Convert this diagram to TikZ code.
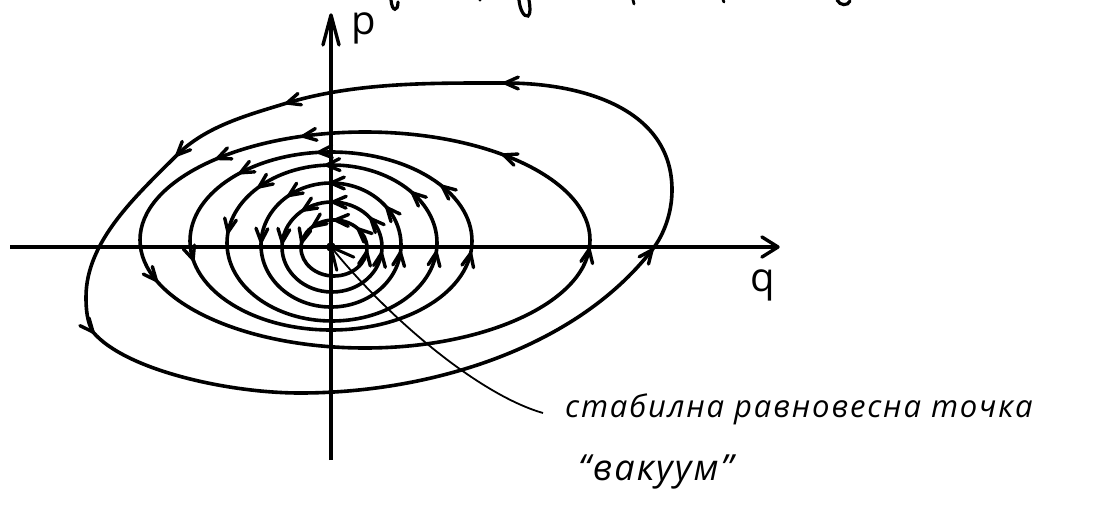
\documentclass[tikz,border=0pt]{standalone}
\usepackage{fontspec}
\setmainfont{Open Sans}
\newfontfamily\hand{Open Sans}
\usetikzlibrary{arrows.meta}
% chevron at (#1,#2) pointing along screen angle #3
\newcommand{\chev}[3]{\draw[chevst] (#1,#2) ++(#3+156:14.5) -- (#1,#2) -- ++(#3-156:14.5);}
% chevron on ellipse centre (#1,#2), radii #3,#4, parameter #5 (counterclockwise on screen)
\newcommand{\earr}[5]{%
  \pgfmathsetmacro{\cpx}{#1+#3*cos(#5)}%
  \pgfmathsetmacro{\cpy}{#2-#4*sin(#5)}%
  \pgfmathsetmacro{\cang}{atan2(-#4*cos(#5),-#3*sin(#5))}%
  \chev{\cpx}{\cpy}{\cang}}
\begin{document}
\begin{tikzpicture}[x=1pt,y=-1pt,
  curve/.style={line width=3.6pt},
  axis/.style={line width=3.3pt},
  chevst/.style={line width=3.4pt,line cap=round,line join=round},
  lbl/.style={inner sep=0pt},
  axlbl/.style={inner sep=0pt,font=\hand\fontsize{40}{46}\selectfont}]
\useasboundingbox (0,0) rectangle (1118,525);
% cut-off strokes at the top edge
\draw[line width=3.2pt,line cap=round] (391,0) .. controls (392,12) and (398,12) .. (398,2);
\draw[line width=3.2pt,line cap=round] (519,0) .. controls (520,10) and (524,17) .. (528,16) .. controls (531,14) and (530,6) .. (529,0);
\fill (480,0) circle (1.6pt);
\draw[line width=2.8pt,line cap=round] (633,0) -- (634,4);
\draw[line width=2.8pt,line cap=round] (723,0) -- (724,2);
\draw[line width=3.2pt,line cap=round] (837,0) .. controls (840,6) and (848,6) .. (850,1);
% axes
\coordinate (o) at (331,247);
\coordinate (xl) at (10,247);
\coordinate (xr) at (778,247);
\coordinate (yb) at (331,460);
\coordinate (yt) at (331,15);
\draw[axis] (xl) -- (xr);
\draw[chevst] (xr) ++(-148:19) -- (xr) -- ++(148:19);
\draw[axis] (yb) -- (yt);
\draw[chevst] (yt) ++(75:31) -- (yt) -- ++(105:31);
\node[axlbl,anchor=base west] (pl) at (351,34) {p};
\node[axlbl,anchor=base west] (ql) at (750,291) {q};
% closed orbits
\draw[curve] (334,248) ellipse [x radius=33pt, y radius=28pt];
\foreach \t in {-8,43,88,130,168} {\earr{334}{248}{33}{28}{\t}}
\draw[curve] (332,247) ellipse [x radius=50pt, y radius=45pt];
\foreach \t in {-8,39,89,125,174} {\earr{332}{247}{50}{45}{\t}}
\draw[curve] (331,245) ellipse [x radius=70pt, y radius=62pt];
\foreach \t in {-7,37,90,127,177} {\earr{331}{245}{70}{62}{\t}}
\draw[curve] (332,243) ellipse [x radius=105pt, y radius=78pt];
\foreach \t in {-7,40,93,134,172} {\earr{332}{243}{105}{78}{\t}}
\draw[curve] (331,241) ellipse [x radius=141pt, y radius=89pt];
\foreach \t in {-8,38,95,130,192} {\earr{331}{241}{141}{89}{\t}}
\draw[curve] (365,240) ellipse [x radius=225pt, y radius=108pt];
\foreach \t in {-5,52,106,131,202} {\earr{365}{240}{225}{108}{\t}}
% outer, egg-shaped orbit
\draw[curve] (652,250) .. controls (665,233.5) and (672,211) .. (672,190)
  .. controls (672,110) and (585,83) .. (505,83)
  .. controls (432,83) and (357,82) .. (287,103)
  .. controls (248,115) and (206,126) .. (177,155)
  .. controls (137,195) and (86,241) .. (86,297)
  .. controls (86,309) and (87,322) .. (93,332)
  .. controls (125,370) and (228,393) .. (300,393)
  .. controls (427,393) and (574,350) .. (652,250) -- cycle;
\chev{505}{83}{180}
\chev{287}{103}{163}
\chev{177}{155}{135}
\chev{93}{332}{50}
\chev{652}{250}{-52}
% equilibrium point and pointer
\fill (o) circle (4.8pt);
\node[lbl,anchor=base west,font=\hand\itshape\fontsize{31}{36}\selectfont] (t1) at (565,417) {\addfontfeatures{LetterSpace=6}стабилна равновесна точка};
\node[lbl,anchor=base west,font=\hand\itshape\fontsize{36}{42}\selectfont] (t2) at (578,480) {\addfontfeatures{LetterSpace=6}“вакуум”};
\coordinate (pt) at (543,413);
\draw[line width=1.8pt] (pt) .. controls (480,395) and (390,320) .. (o);
\draw[line width=3pt,line cap=round,line join=round] (o) ++(24:25) -- (o) -- ++(76:24);
\end{tikzpicture}
\end{document}
